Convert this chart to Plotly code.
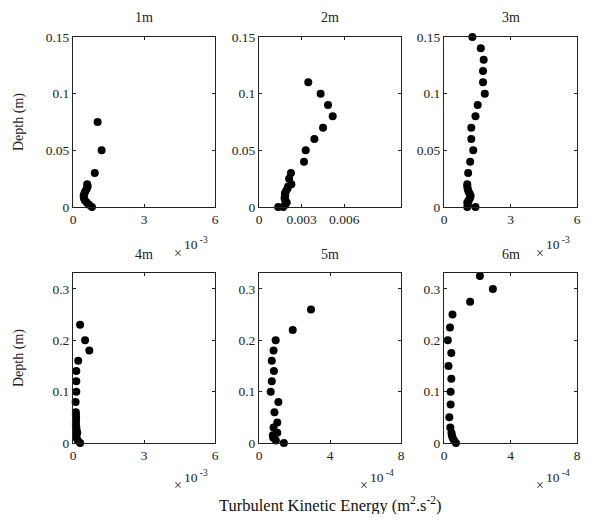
import plotly.graph_objects as go

# Page is 589x522; the default HTML body margin is 8px, so the figure itself is 573x506.
PAGE_OFF = 8
FW, FH = 573, 506

# ---------------- data (TKE in m^2 s^-2, depth in m) ----------------
depth_1m = [0, 0.002, 0.004, 0.006, 0.008, 0.010, 0.012, 0.014, 0.016, 0.018, 0.020, 0.030, 0.050, 0.075]
tke_1m = [0.80e-3, 0.68e-3, 0.58e-3, 0.50e-3, 0.46e-3, 0.45e-3, 0.48e-3, 0.52e-3, 0.58e-3, 0.62e-3,
          0.60e-3, 0.92e-3, 1.21e-3, 1.04e-3]

depth_2m = [0, 0, 0.002, 0.004, 0.006, 0.008, 0.010, 0.012, 0.014, 0.016, 0.018, 0.020, 0.025, 0.030,
            0.040, 0.050, 0.060, 0.070, 0.080, 0.090, 0.100, 0.110]
tke_2m = [1.35e-3, 1.71e-3, 1.85e-3, 1.95e-3, 1.85e-3, 1.80e-3, 1.85e-3, 1.82e-3, 1.90e-3, 2.00e-3,
          2.05e-3, 2.28e-3, 2.12e-3, 2.25e-3, 3.17e-3, 3.29e-3, 3.90e-3, 4.51e-3, 5.19e-3, 4.86e-3,
          4.34e-3, 3.47e-3]

depth_3m = [0, 0, 0.002, 0.004, 0.006, 0.008, 0.010, 0.012, 0.014, 0.016, 0.018, 0.020, 0.030, 0.040,
            0.050, 0.060, 0.070, 0.080, 0.090, 0.100, 0.110, 0.120, 0.130, 0.140, 0.150]
tke_3m = [1.05e-3, 1.42e-3, 1.08e-3, 1.05e-3, 1.12e-3, 1.18e-3, 1.20e-3, 1.15e-3, 1.10e-3, 1.07e-3,
          1.05e-3, 1.05e-3, 1.09e-3, 1.18e-3, 1.32e-3, 1.23e-3, 1.23e-3, 1.42e-3, 1.52e-3, 1.84e-3,
          1.76e-3, 1.76e-3, 1.79e-3, 1.66e-3, 1.28e-3]

depth_4m = [0, 0.005, 0.010, 0.015, 0.020, 0.025, 0.030, 0.035, 0.040, 0.045, 0.050, 0.055, 0.060,
            0.080, 0.100, 0.120, 0.140, 0.160, 0.180, 0.200, 0.230]
tke_4m = [0.30e-3, 0.20e-3, 0.15e-3, 0.14e-3, 0.18e-3, 0.15e-3, 0.14e-3, 0.12e-3, 0.12e-3, 0.13e-3,
          0.13e-3, 0.12e-3, 0.12e-3, 0.11e-3, 0.14e-3, 0.14e-3, 0.14e-3, 0.22e-3, 0.69e-3, 0.51e-3,
          0.30e-3]

depth_5m = [0, 0.005, 0.010, 0.015, 0.020, 0.030, 0.040, 0.060, 0.080, 0.100, 0.120, 0.140, 0.160,
            0.180, 0.200, 0.220, 0.260]
tke_5m = [1.40e-4, 0.95e-4, 0.80e-4, 0.78e-4, 1.03e-4, 0.82e-4, 1.03e-4, 0.87e-4, 1.09e-4, 0.66e-4,
          0.72e-4, 0.84e-4, 0.72e-4, 0.82e-4, 0.94e-4, 1.90e-4, 2.93e-4]

depth_6m = [0, 0.005, 0.010, 0.015, 0.020, 0.030, 0.050, 0.075, 0.100, 0.125, 0.150, 0.175, 0.200,
            0.225, 0.250, 0.275, 0.300, 0.325]
tke_6m = [0.72e-4, 0.60e-4, 0.52e-4, 0.47e-4, 0.45e-4, 0.38e-4, 0.32e-4, 0.40e-4, 0.40e-4, 0.44e-4,
          0.27e-4, 0.44e-4, 0.23e-4, 0.36e-4, 0.51e-4, 1.57e-4, 2.94e-4, 2.16e-4]

panel_titles = ["1m", "2m", "3m", "4m", "5m", "6m"]
x_ranges = [[0, 6e-3], [0, 0.01], [0, 6e-3], [0, 6e-3], [0, 8e-4], [0, 8e-4]]
x_tickvals = [[0, 3e-3, 6e-3], [0, 0.003, 0.006], [0, 3e-3, 6e-3],
              [0, 3e-3, 6e-3], [0, 4e-4, 8e-4], [0, 4e-4, 8e-4]]
x_ticktext = [["0", "3", "6"], ["0", "0.003", "0.006"], ["0", "3", "6"],
              ["0", "3", "6"], ["0", "4", "8"], ["0", "4", "8"]]
exponents = ["-3", None, "-3", "-3", "-4", "-4"]
y_ranges = [[0, 0.15]] * 3 + [[0, 0.331]] * 3
y_tickvals = [[0, 0.05, 0.1, 0.15]] * 3 + [[0, 0.1, 0.2, 0.3]] * 3
y_ticktext = [["0", "0.05", "0.1", "0.15"]] * 3 + [["0", "0.1", "0.2", "0.3"]] * 3

depths = [depth_1m, depth_2m, depth_3m, depth_4m, depth_5m, depth_6m]
tkes = [tke_1m, tke_2m, tke_3m, tke_4m, tke_5m, tke_6m]

# ---------------- layout geometry (page pixels) ----------------
col_px = [(73, 215), (259, 401), (444, 577)]
row_px = [(37, 207), (273, 443)]
exp_offsets = [(46, 36), (42, 33)]  # (× offset, 10^n offset) below each row's axes


def fx(px):
    return (px - PAGE_OFF) / FW


def fy(py):
    return 1 - (py - PAGE_OFF) / FH


FONT = "Liberation Serif, Times New Roman, serif"
INK = "#222"
fig = go.Figure()
layout = dict(
    width=FW, height=FH, autosize=False,
    margin=dict(l=0, r=0, t=0, b=0, pad=0, autoexpand=False),
    paper_bgcolor="white", plot_bgcolor="white", showlegend=False,
    font=dict(family=FONT, size=13.5, color=INK),
)
annotations = []

for i in range(6):
    r, c = divmod(i, 3)
    xa = "x" if i == 0 else f"x{i+1}"
    ya = "y" if i == 0 else f"y{i+1}"
    xkey = "xaxis" if i == 0 else f"xaxis{i+1}"
    ykey = "yaxis" if i == 0 else f"yaxis{i+1}"
    x0, x1 = col_px[c]
    yt, yb = row_px[r]
    fig.add_trace(go.Scatter(
        x=tkes[i], y=depths[i], mode="markers", xaxis=xa, yaxis=ya,
        marker=dict(color="black", size=8, line=dict(width=0)),
        cliponaxis=False, hoverinfo="x+y",
    ))
    common = dict(showline=True, linecolor=INK, linewidth=1, mirror="allticks",
                  ticks="inside", ticklen=3, tickcolor=INK, showgrid=False, zeroline=False,
                  automargin=False, tickfont=dict(family=FONT, size=13.5, color=INK))
    layout[xkey] = dict(common, domain=[fx(x0), fx(x1)], range=x_ranges[i],
                        tickmode="array", tickvals=x_tickvals[i], ticktext=x_ticktext[i],
                        anchor=ya)
    layout[ykey] = dict(common, domain=[fy(yb), fy(yt)], range=y_ranges[i],
                        tickmode="array", tickvals=y_tickvals[i], ticktext=y_ticktext[i],
                        anchor=xa)
    # panel title
    annotations.append(dict(text=panel_titles[i], x=fx((x0 + x1) / 2), y=fy(yt - 19),
                            xref="paper", yref="paper", showarrow=False,
                            xanchor="center", yanchor="middle",
                            font=dict(family=FONT, size=14, color=INK)))
    # exponent label: "×" on the line, "10^-3" raised
    if exponents[i]:
        o_x, o_10 = exp_offsets[r]
        annotations.append(dict(text="×", x=fx(x1 - 43), y=fy(yb + o_x),
                                xref="paper", yref="paper", showarrow=False,
                                xanchor="left", yanchor="middle",
                                font=dict(family=FONT, size=14, color=INK)))
        annotations.append(dict(text="10<sup> " + exponents[i] + "</sup>",
                                x=fx(x1 - 33), y=fy(yb + o_10),
                                xref="paper", yref="paper", showarrow=False,
                                xanchor="left", yanchor="middle",
                                font=dict(family=FONT, size=13.5, color=INK)))

# y-axis titles (left column)
for r in range(2):
    yt, yb = row_px[r]
    annotations.append(dict(text="Depth (m)", x=fx(19), y=fy((yt + yb) / 2),
                            xref="paper", yref="paper", showarrow=False, textangle=-90,
                            xanchor="center", yanchor="middle",
                            font=dict(family=FONT, size=14, color=INK)))

# global x title
annotations.append(dict(text="Turbulent Kinetic Energy (m<sup>2</sup>.s<sup>-2</sup>)",
                        x=fx(331), y=fy(504.5), xref="paper", yref="paper",
                        showarrow=False, xanchor="center", yanchor="middle",
                        font=dict(family=FONT, size=16.5, color="#111")))

layout["annotations"] = annotations
fig.update_layout(**layout)
fig.write_html("out.html", config={"displayModeBar": False})
